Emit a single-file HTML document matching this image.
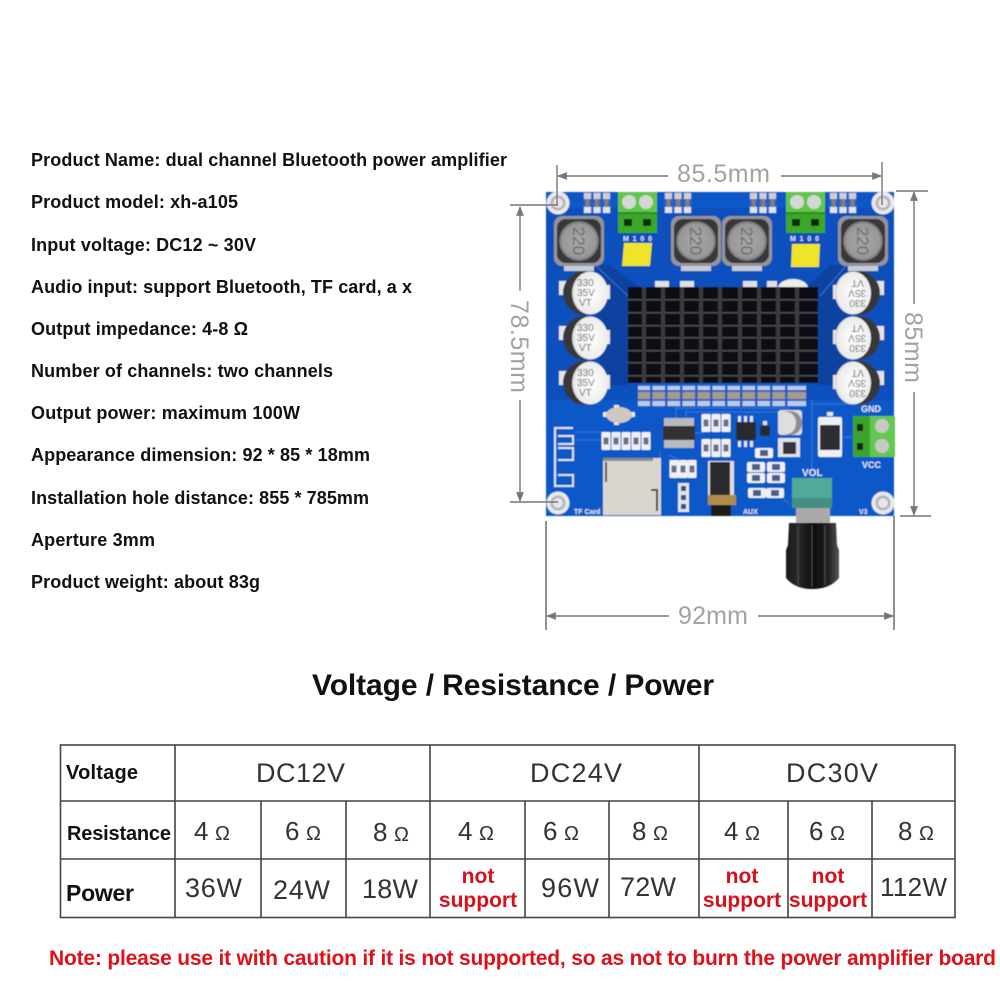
<!DOCTYPE html>
<html><head><meta charset="utf-8"><style>
html,body{margin:0;padding:0;background:#fff}
svg{display:block}
text{font-family:"Liberation Sans",Arial,sans-serif}
.l{font-size:18px;font-weight:700;fill:#111}
.d{font-size:25px;fill:#a2a2a2}
.h{font-size:20px;font-weight:700;fill:#111}
.v{font-size:27px;fill:#333}
.n{font-size:26px;fill:#333}
.o{font-size:20px;fill:#333}
.r{font-size:21px;font-weight:700;fill:#d8101c;text-anchor:middle}
.s{font-weight:700;fill:#e4e8f4}
</style></head><body>
<svg width="1000" height="1000" viewBox="0 0 1000 1000" xmlns="http://www.w3.org/2000/svg">
<defs>
<filter id="b" x="-5%" y="-5%" width="110%" height="110%"><feGaussianBlur stdDeviation="0.6"/></filter>
<radialGradient id="capg" cx="0.55" cy="0.5" r="0.6"><stop offset="0" stop-color="#fff"/><stop offset="0.8" stop-color="#ececec"/><stop offset="1" stop-color="#b5b5b5"/></radialGradient>
<radialGradient id="indg" cx="0.5" cy="0.5" r="0.5"><stop offset="0" stop-color="#a8a8aa"/><stop offset="0.85" stop-color="#98989a"/><stop offset="1" stop-color="#6c6c6e"/></radialGradient>
<linearGradient id="kn" x1="0" x2="1" y1="0" y2="0"><stop offset="0" stop-color="#1a1a1a"/><stop offset="0.25" stop-color="#2a2a2a"/><stop offset="0.5" stop-color="#0c0c0c"/><stop offset="0.8" stop-color="#222"/><stop offset="1" stop-color="#555"/></linearGradient>
<g id="ind"><rect x="-25" y="-25" width="50" height="50" rx="8" fill="#949498"/><rect x="-22" y="-22" width="44" height="44" rx="9" fill="#37373a"/><circle r="20" fill="url(#indg)"/><text transform="rotate(90)" text-anchor="middle" y="6" font-size="17" fill="#6a6a6c">220</text><rect x="-15" y="25" width="30" height="5" fill="#c8ccd6"/></g>
<g id="capL"><rect x="-26" y="-12" width="8" height="14" fill="#e4e4e4"/><rect x="18" y="-8" width="7" height="14" fill="#e4e4e4"/><circle r="22" fill="#39393b"/><ellipse cx="5" cy="0" rx="18" ry="21.5" fill="url(#capg)"/><text x="-8" y="-7" font-size="10" fill="#666">330</text><text x="-8" y="3" font-size="10" fill="#666">35V</text><text x="-6" y="13" font-size="10" fill="#666">VT</text></g>
<g id="capR"><rect x="-25" y="-8" width="7" height="14" fill="#e4e4e4"/><rect x="18" y="-12" width="8" height="14" fill="#e4e4e4"/><circle r="22" fill="#39393b"/><ellipse cx="-5" cy="0" rx="18" ry="21.5" fill="url(#capg)"/><g transform="rotate(180)"><text x="-8" y="-7" font-size="10" fill="#666">330</text><text x="-8" y="3" font-size="10" fill="#666">35V</text><text x="-6" y="13" font-size="10" fill="#666">VT</text></g></g>
<g id="sm3"><rect x="-14" y="-10" width="28" height="20" fill="#1e64cc"/><rect x="-13" y="-10" width="7" height="6" fill="#cfcfd2"/><rect x="-3.5" y="-10" width="7" height="6" fill="#cfcfd2"/><rect x="6" y="-10" width="7" height="6" fill="#cfcfd2"/><rect x="-13" y="4" width="7" height="6" fill="#dfe2ea"/><rect x="-3.5" y="4" width="7" height="6" fill="#dfe2ea"/><rect x="6" y="4" width="7" height="6" fill="#dfe2ea"/><rect x="-11.5" y="-4" width="4" height="8" fill="#8d7c70"/><rect x="-2" y="-4" width="4" height="8" fill="#8d7c70"/><rect x="7.5" y="-4" width="4" height="8" fill="#8d7c70"/></g>
<g id="res"><rect x="-9" y="-5" width="18" height="10" rx="2" fill="#eef0f4"/><rect x="-4" y="-3" width="8" height="6" fill="#4a5f88"/></g>
<g id="vr"><rect x="-4.5" y="-9" width="9" height="18" rx="1" fill="#eef0f4"/><rect x="-2.5" y="-3.5" width="5" height="7" fill="#6a6f85"/></g>
<g id="hole"><circle r="11.5" fill="#e8e9ee"/><circle r="7.5" fill="#b2b3b8"/><circle r="5" fill="#e6e6e8"/></g>
<g id="term"><rect width="39" height="41" fill="#3aa82c"/><rect width="39" height="20" fill="#62c64c"/><circle cx="11" cy="10" r="7" fill="#d4d8d4"/><circle cx="28" cy="10" r="7" fill="#d4d8d4"/><rect y="20" width="39" height="2" fill="#2a8c22"/><rect x="6" y="27" width="8" height="7" fill="#0e2a0e"/><rect x="25" y="27" width="8" height="7" fill="#0e2a0e"/></g>
<marker id="ar" viewBox="0 0 10 10" refX="9" refY="5" markerWidth="8" markerHeight="7" orient="auto-start-reverse"><path d="M0 1L10 5L0 9z" fill="#777"/></marker>
</defs>
<rect width="1000" height="1000" fill="#fff"/>

<!-- Specs -->
<text class="l" x="31" y="166" textLength="476">Product Name: dual channel Bluetooth power amplifier</text>
<text class="l" x="31" y="208" textLength="207">Product model: xh-a105</text>
<text class="l" x="31" y="251" textLength="225">Input voltage: DC12 ~ 30V</text>
<text class="l" x="31" y="293" textLength="381">Audio input: support Bluetooth, TF card, a x</text>
<text class="l" x="31" y="335" textLength="217">Output impedance: 4-8 Ω</text>
<text class="l" x="31" y="377" textLength="302">Number of channels: two channels</text>
<text class="l" x="31" y="419" textLength="269">Output power: maximum 100W</text>
<text class="l" x="31" y="461" textLength="339">Appearance dimension: 92 * 85 * 18mm</text>
<text class="l" x="31" y="504" textLength="338">Installation hole distance: 855 * 785mm</text>
<text class="l" x="31" y="546" textLength="124">Aperture 3mm</text>
<text class="l" x="31" y="588" textLength="229">Product weight: about 83g</text>

<!-- Board -->
<g filter="url(#b)">
<rect x="546" y="192" width="348" height="324" fill="#0b50bc"/>
<path d="M546 192H894V208H546zM546 400H894V516H546z" fill="#0c58c8"/>
<path d="M593 265H610L640 288H628V385H600zM848 265H830L805 288H818V385H846z" fill="#0a42a0"/>
<g fill="none" stroke="#3c7cdc" stroke-width="1" opacity=".85"><path d="M676 418V408H790M686 418V412H800M812 400V472M575 432H605M575 440H605M842 437H853M695 433H703M660 452V458M790 505L775 490M668 455L680 460M812 404H850"/><path d="M570 266H596L628 296M870 266H846L820 296"/></g>
<use href="#sm3" x="597" y="203"/><use href="#sm3" x="678" y="203"/><use href="#sm3" x="763" y="203"/><use href="#sm3" x="843" y="203"/>
<use href="#hole" x="558" y="203"/><use href="#hole" x="883" y="203"/><use href="#hole" x="558" y="503"/><use href="#hole" x="883" y="503"/>
<use href="#term" x="618" y="192"/><use href="#term" x="786" y="192"/>
<use href="#ind" x="579" y="241"/><use href="#ind" x="696" y="241"/><use href="#ind" x="747" y="241"/><use href="#ind" x="863" y="241"/>
<text x="623" y="241" font-size="7" class="s" textLength="29">M100</text><text x="790" y="241" font-size="7" class="s" textLength="29">M100</text>
<path d="M624 243H652L650 266H622z" fill="#f0e42a"/><path d="M792 244H820L819 267H791z" fill="#f0e42a"/>
<g fill="#dfe0e4"><rect x="655" y="281" width="14" height="7"/><rect x="680" y="281" width="14" height="7"/><rect x="743" y="281" width="14" height="7"/><rect x="767" y="281" width="10" height="7"/></g><ellipse cx="793" cy="288" rx="15" ry="9" fill="#ececec"/>
<use href="#capL" x="585" y="293"/><use href="#capL" x="585" y="338"/><use href="#capL" x="585" y="383"/>
<use href="#capR" x="858" y="293"/><use href="#capR" x="858" y="338"/><use href="#capR" x="858" y="383"/>
<!-- heatsink -->
<rect x="628" y="287" width="190" height="96" fill="#101012"/>
<g fill="#4c4c4f"><rect x="628" y="299" width="190" height="1.6"/><rect x="628" y="312" width="190" height="1.6"/><rect x="628" y="325" width="190" height="1.6"/><rect x="628" y="337" width="190" height="1.6"/><rect x="628" y="350" width="190" height="1.6"/><rect x="628" y="362" width="190" height="1.6"/><rect x="628" y="375" width="190" height="1.6"/></g>
<g fill="#3a3a3d"><rect x="642" y="287" width="4" height="96"/><rect x="661" y="287" width="4" height="96"/><rect x="680" y="287" width="4" height="96"/><rect x="699" y="287" width="4" height="96"/><rect x="718" y="287" width="4" height="96"/><rect x="738" y="287" width="4" height="96"/><rect x="757" y="287" width="4" height="96"/><rect x="776" y="287" width="4" height="96"/><rect x="795" y="287" width="4" height="96"/></g>
<!-- pin rows -->
<rect x="638" y="384" width="168" height="23" fill="#1e64cc"/>
<g fill="#bccbe4"><rect x="638" y="386" width="168" height="4"/><rect x="638" y="401" width="168" height="5"/></g>
<g fill="#a89a86"><rect x="638" y="392" width="168" height="7"/></g>
<g fill="#1e5cc4"><rect x="650" y="385" width="2.5" height="22"/><rect x="665" y="385" width="2.5" height="22"/><rect x="680" y="385" width="2.5" height="22"/><rect x="695" y="385" width="2.5" height="22"/><rect x="710" y="385" width="2.5" height="22"/><rect x="725" y="385" width="2.5" height="22"/><rect x="740" y="385" width="2.5" height="22"/><rect x="755" y="385" width="2.5" height="22"/><rect x="770" y="385" width="2.5" height="22"/><rect x="785" y="385" width="2.5" height="22"/></g>
<!-- lower left -->
<g fill="#e6e6e6"><rect x="603" y="412" width="32" height="5" rx="1"/><rect x="614" y="405" width="5" height="20"/></g>
<ellipse cx="619" cy="415" rx="13" ry="8" fill="#cfc8c0"/>
<g fill="none" stroke="#dde2ee" stroke-width="2"><path d="M573 428H555V486H573V475H558M558 460H573V448H558M558 444H573V436H558"/></g>
<use href="#vr" x="606" y="441"/><use href="#vr" x="616" y="441"/><use href="#vr" x="626" y="441"/><use href="#vr" x="636" y="441"/><use href="#vr" x="646" y="441"/>
<rect x="664" y="418" width="30" height="9" fill="#b6babf"/><rect x="664" y="440" width="30" height="8" fill="#b6babf"/><rect x="663" y="426" width="32" height="14" fill="#333336"/>
<rect x="603" y="458" width="58" height="57" fill="#d9d6cf"/><rect x="603" y="458" width="50" height="3" fill="#8a8a88"/><rect x="605" y="462" width="2" height="20" fill="#555"/><path d="M651 490H657V511" stroke="#444" stroke-width="2" fill="none"/>
<use href="#vr" x="674" y="469"/><use href="#vr" x="683" y="469"/><use href="#vr" x="692" y="469"/>
<rect x="678" y="483" width="11" height="29" fill="#dfe3ee"/><rect x="681" y="486" width="5" height="5" fill="#3d4f78"/><rect x="681" y="495" width="5" height="5" fill="#3d4f78"/><rect x="681" y="504" width="5" height="5" fill="#3d4f78"/>
<!-- middle -->
<use href="#vr" x="706" y="423"/><use href="#vr" x="716" y="423"/><use href="#vr" x="726" y="423"/>
<use href="#vr" x="706" y="448"/><use href="#vr" x="716" y="448"/><use href="#vr" x="726" y="448"/>
<g fill="#dfe2ea"><rect x="738" y="416" width="3" height="6"/><rect x="744" y="416" width="3" height="6"/><rect x="750" y="416" width="3" height="6"/><rect x="738" y="441" width="3" height="6"/><rect x="744" y="441" width="3" height="6"/><rect x="750" y="441" width="3" height="6"/></g>
<rect x="736" y="422" width="20" height="18" fill="#2c2c2f"/>
<rect x="760" y="426" width="10" height="10" fill="#2a2a2d"/><rect x="763" y="421" width="4" height="4" fill="#e2e2e2"/>
<rect x="778" y="410" width="24" height="25" rx="3" fill="#dcdcdc"/><circle cx="790" cy="423" r="12" fill="#8e8e92"/><ellipse cx="787" cy="423" rx="9" ry="11" fill="#dedede"/>
<rect x="778" y="438" width="22" height="19" fill="#dfe2ea"/><rect x="783" y="442" width="13" height="12" fill="#35353a"/>
<rect x="708" y="461" width="26" height="34" fill="#dcdcdc"/><rect x="710" y="462" width="20" height="33" fill="#2c2c2e"/><rect x="708" y="495" width="28" height="10" fill="#ad8d48"/><rect x="711" y="505" width="20" height="11" fill="#1d1d1d"/>
<use href="#res" x="764" y="453"/>
<use href="#res" x="756" y="467"/><use href="#res" x="776" y="467"/><use href="#res" x="756" y="478"/><use href="#res" x="776" y="478"/>
<use href="#res" x="757" y="493"/><use href="#res" x="775" y="493"/>
<rect x="818" y="417" width="24" height="40" rx="2" fill="#eef0f4"/><rect x="820" y="425" width="20" height="25" fill="#2e2e30"/><rect x="827" y="412" width="6" height="4" fill="#e6e6e6"/>
<rect x="853" y="416" width="42" height="41" fill="#64c850"/><rect x="853" y="416" width="17" height="41" fill="#3aa42e"/><circle cx="882" cy="426" r="7" fill="#c8c8c4"/><circle cx="882" cy="446" r="7" fill="#c8c8c4"/><rect x="857" y="424" width="6" height="7" fill="#0e2a0e"/><rect x="857" y="443" width="6" height="7" fill="#0e2a0e"/>
<rect x="792" y="478" width="40" height="30" fill="#52a997"/><rect x="792" y="498" width="40" height="10" fill="#448f82"/>
<rect x="796" y="508" width="34" height="15" fill="#a9a9a9"/>
<text x="802" y="476" font-size="10" class="s">VOL</text>
<text x="861" y="412" font-size="9" class="s">GND</text>
<text x="862" y="468" font-size="9" class="s">VCC</text>
<text x="574" y="514" font-size="7" class="s">TF Card</text>
<text x="743" y="514" font-size="7" class="s">AUX</text>
<text x="859" y="514" font-size="7" class="s">V3</text>
</g>
<!-- Knob -->
<g filter="url(#b)"><path d="M789 523H836L837 545L839 550V578Q830 589 812 589Q795 589 786 578V550L788 545z" fill="url(#kn)"/><g stroke="#4a4a4c" stroke-width="1.2"><path d="M798 525V585M812 525V587M825 525V585"/></g></g>

<!-- Dimensions -->
<g stroke="#777" stroke-width="1.4" fill="none">
<path d="M557 165V205M882 162V205M510 205H558M510 502H558M896 191H928M900 516H931"/>
<path d="M546 521V630M894 516V630" stroke-width="1.6"/>
<path d="M558 176H668" marker-start="url(#ar)"/><path d="M781 176H881" marker-end="url(#ar)"/>
<path d="M520 291V207" marker-end="url(#ar)"/><path d="M520 400V501" marker-end="url(#ar)"/>
<path d="M914 304V192" marker-end="url(#ar)"/><path d="M914 392V515" marker-end="url(#ar)"/>
<path d="M547 616H669" marker-start="url(#ar)"/><path d="M758 616H893" marker-end="url(#ar)"/>
</g>
<text class="d" x="677" y="182" textLength="93">85.5mm</text>
<text class="d" x="678" y="624" textLength="70">92mm</text>
<text class="d" transform="translate(511,300) rotate(90)" textLength="93">78.5mm</text>
<text class="d" transform="translate(905,312) rotate(90)" textLength="71">85mm</text>

<!-- Title -->
<text x="312" y="695" font-size="30" font-weight="700" fill="#111" textLength="402">Voltage / Resistance / Power</text>

<!-- Table -->
<g stroke="#444" stroke-width="1.6" fill="none">
<rect x="60.5" y="745" width="894.5" height="172.5"/>
<path d="M60 801H955M60 859H955M175 745V918M430 745V918M699 745V918M261 801V918M346 801V918M525 801V918M609 801V918M788 801V918M872 801V918"/>
</g>
<text class="h" x="66" y="779" textLength="72">Voltage</text>
<text class="h" x="67" y="840" textLength="104">Resistance</text>
<text x="66" y="901" font-size="23" font-weight="700" fill="#111" textLength="68">Power</text>
<text class="v" x="256" y="782" textLength="89">DC12V</text>
<text class="v" x="530" y="782" textLength="92">DC24V</text>
<text class="v" x="786" y="782" textLength="92">DC30V</text>

<text class="n" x="194" y="840">4</text><text class="o" x="215" y="840">Ω</text>
<text class="n" x="285" y="840">6</text><text class="o" x="306" y="840">Ω</text>
<text class="n" x="373" y="841">8</text><text class="o" x="394" y="841">Ω</text>
<text class="n" x="458" y="840">4</text><text class="o" x="479" y="840">Ω</text>
<text class="n" x="543" y="840">6</text><text class="o" x="564" y="840">Ω</text>
<text class="n" x="632" y="840">8</text><text class="o" x="653" y="840">Ω</text>
<text class="n" x="724" y="840">4</text><text class="o" x="745" y="840">Ω</text>
<text class="n" x="809" y="840">6</text><text class="o" x="830" y="840">Ω</text>
<text class="n" x="898" y="840">8</text><text class="o" x="919" y="840">Ω</text>

<text class="v" x="185" y="897" textLength="57">36W</text>
<text class="v" x="273" y="899" textLength="57">24W</text>
<text class="v" x="362" y="898" textLength="56">18W</text>
<text class="v" x="541" y="897" textLength="58">96W</text>
<text class="v" x="620" y="896" textLength="56">72W</text>
<text class="v" style="font-size:26px" x="880" y="896" textLength="67">112W</text>
<text class="r" x="478" y="883">not</text><text class="r" x="478" y="907">support</text>
<text class="r" x="742" y="883">not</text><text class="r" x="742" y="907">support</text>
<text class="r" x="828" y="883">not</text><text class="r" x="828" y="907">support</text>

<text x="49" y="965" font-size="21" font-weight="700" fill="#e0101a" textLength="947">Note: please use it with caution if it is not supported, so as not to burn the power amplifier board</text>
</svg>
</body></html>
